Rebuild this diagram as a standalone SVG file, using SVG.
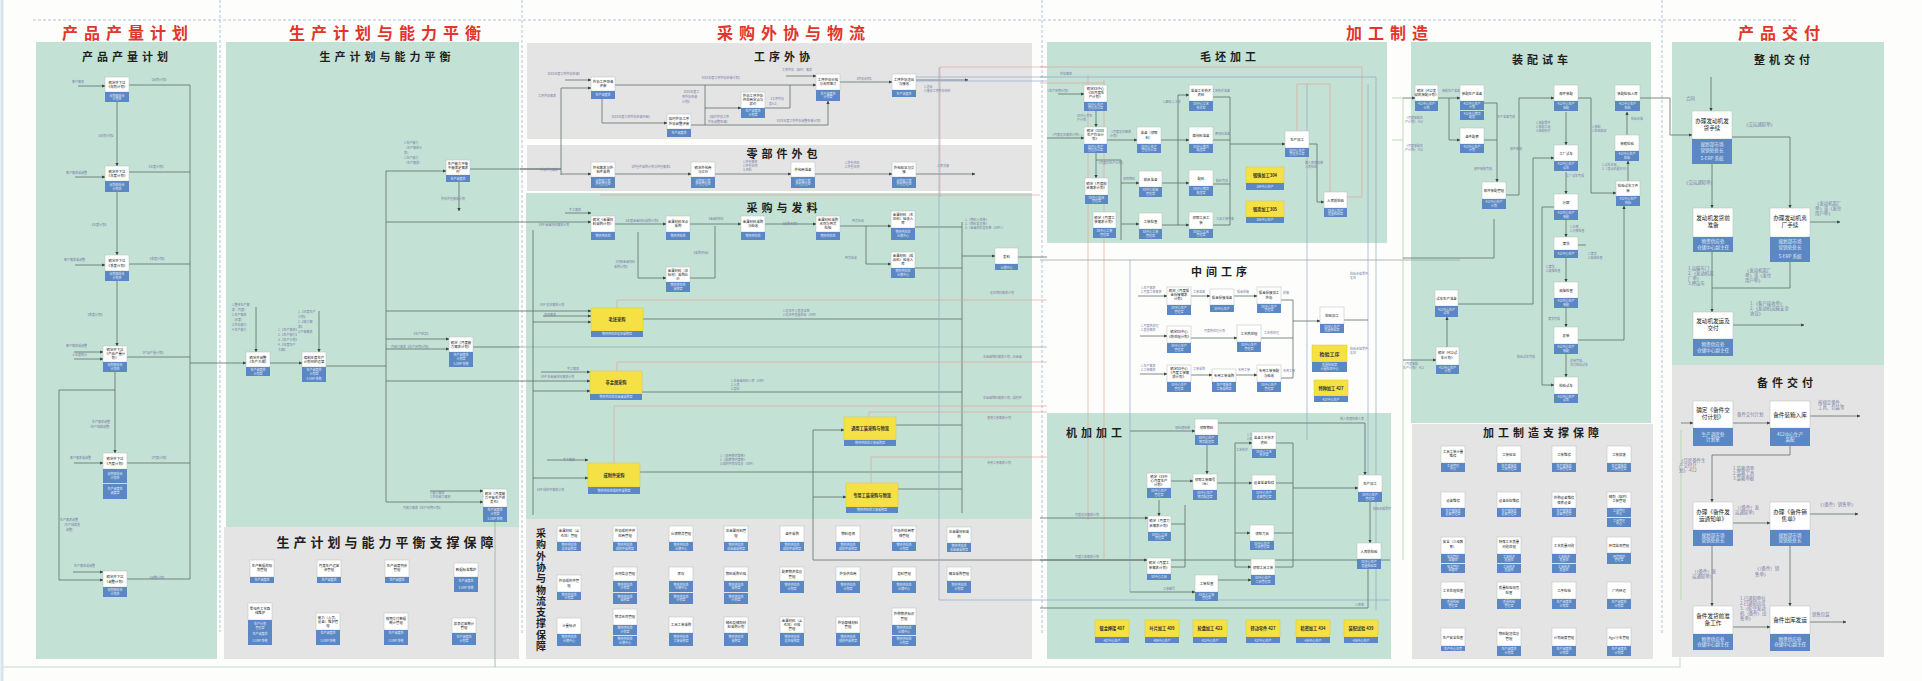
<svg xmlns="http://www.w3.org/2000/svg" width="1922" height="681" viewBox="0 0 1922 681">
<defs>
<marker id="a" viewBox="0 0 6 6" refX="5.5" refY="3" markerWidth="4" markerHeight="4" orient="auto"><path d="M0,0 L6,3 L0,6 z" fill="#36463f"/></marker>
</defs>
<style>
.pg{fill:#c4e1d5}
.pr{fill:#e4e4e4}
.hd{font-family:"Noto Sans CJK SC",sans-serif;font-weight:700;font-size:16px;fill:#e2352b;letter-spacing:6px;text-anchor:middle}
.pt{font-family:"Noto Sans CJK SC",sans-serif;font-weight:700;font-size:11px;fill:#1e1e1e;letter-spacing:4px;text-anchor:middle}
.w{fill:#fff;stroke:#b3bfbc;stroke-width:0.5}
.b{fill:#5b88c4}
.y{fill:#f6e144;stroke:#d8c63a;stroke-width:0.5}
.t{font-family:"Noto Sans CJK SC",sans-serif;font-size:3.4px;fill:#222;text-anchor:middle}
.ty{font-family:"Noto Sans CJK SC",sans-serif;font-size:4.2px;font-weight:700;fill:#333;text-anchor:middle}
.bt{font-family:"Noto Sans CJK SC",sans-serif;font-size:3px;fill:#e4ecf8;text-anchor:middle}
.t2{font-family:"Noto Sans CJK SC",sans-serif;font-size:5.6px;fill:#222;text-anchor:middle}
.bt2{font-family:"Noto Sans CJK SC",sans-serif;font-size:4.6px;fill:#e4ecf8;text-anchor:middle}
.l{font-family:"Noto Sans CJK SC",sans-serif;font-size:3px;fill:#7a7ea6}
.l2{font-family:"Noto Sans CJK SC",sans-serif;font-size:4.4px;fill:#7a7ea6}
.lr{font-family:"Noto Sans CJK SC",sans-serif;font-size:3px;fill:#8a7e9e}
.c{fill:none;stroke:#5d6f68;stroke-width:0.8}
.ca{fill:none;stroke:#5d6f68;stroke-width:0.8;marker-end:url(#a)}
.r{fill:none;stroke:#e79a96;stroke-width:0.6}
.u{fill:none;stroke:#93abc8;stroke-width:0.7}
.g{fill:none;stroke:#a9d4a4;stroke-width:0.8}
.dash{fill:none;stroke:#9cb3d6;stroke-width:0.8;stroke-dasharray:3 2}
</style>
<rect width="1922" height="681" fill="#fdfdfb"/>
<path d="M2,0 V681" stroke="#d5e6ee" stroke-width="3" fill="none"/>
<path d="M3,667 H1680 V560" stroke="#deeee6" stroke-width="2" fill="none"/>

<!-- frame dashed lines -->
<g id="frame">
<path class="dash" d="M33,20 H1797"/>
<path class="dash" d="M220,0 V632 M522,0 V633 M1042,0 V633 M1662,0 V635"/>
</g>

<!-- section headers -->
<g id="headers">
<text class="hd" x="128" y="39">产品产量计划</text>
<text class="hd" x="388" y="39">生产计划与能力平衡</text>
<text class="hd" x="794" y="39">采购外协与物流</text>
<text class="hd" x="1390" y="39">加工制造</text>
<text class="hd" x="1782" y="39">产品交付</text>
</g>

<!-- panels -->
<g id="panels">
<rect class="pg" x="36" y="42" width="181" height="617"/>
<rect class="pg" x="226" y="42" width="293" height="485"/>
<rect class="pr" x="224" y="527" width="295" height="132"/>
<rect class="pr" x="527" y="43" width="505" height="96"/>
<rect class="pr" x="527" y="145" width="505" height="46"/>
<rect class="pg" x="526" y="193" width="506" height="326"/>
<rect class="pr" x="526" y="519" width="506" height="140"/>
<rect class="pg" x="1047" y="42" width="340" height="201"/>
<rect class="pg" x="1047" y="413" width="344" height="246"/>
<rect class="pg" x="1411" y="42" width="240" height="381"/>
<rect class="pr" x="1412" y="424" width="241" height="235"/>
<rect class="pg" x="1672" y="42" width="212" height="323"/>
<rect class="pr" x="1672" y="365" width="212" height="292"/>
</g>

<g id="panel-titles">
<text class="pt" x="127" y="61">产品产量计划</text>
<text class="pt" x="387" y="61">生产计划与能力平衡</text>
<text class="pt" x="387" y="547" style="font-size:13px">生产计划与能力平衡支撑保障</text>
<text class="pt" x="784" y="61">工序外协</text>
<text class="pt" x="784" y="158">零部件外包</text>
<text class="pt" x="784" y="212">采购与发料</text>
<text class="pt" x="541" y="537" style="font-size:10px;letter-spacing:0">采<tspan x="541" dy="11.3">购</tspan><tspan x="541" dy="11.3">外</tspan><tspan x="541" dy="11.3">协</tspan><tspan x="541" dy="11.3">与</tspan><tspan x="541" dy="11.3">物</tspan><tspan x="541" dy="11.3">流</tspan><tspan x="541" dy="11.3">支</tspan><tspan x="541" dy="11.3">撑</tspan><tspan x="541" dy="11.3">保</tspan><tspan x="541" dy="11.3">障</tspan></text>
<text class="pt" x="1230" y="61">毛坯加工</text>
<text class="pt" x="1221" y="276">中间工序</text>
<text class="pt" x="1096" y="437">机加加工</text>
<text class="pt" x="1542" y="64">装配试车</text>
<text class="pt" x="1543" y="437" style="font-size:11px">加工制造支撑保障</text>
<text class="pt" x="1784" y="64">整机交付</text>
<text class="pt" x="1787" y="387">备件交付</text>
</g>

<!-- ================= connectors ================= -->
<g id="connectors">
<!-- region 1 -->
<path class="c" d="M129,85 H190 M129,172 H190 M129,264 H190 M127,357 H190 M127,463 H190 M127,579 H190 M190,85 V579"/>
<path class="ca" d="M117,102 V166"/>
<path class="ca" d="M117,192 V255"/>
<path class="ca" d="M117,281 V346"/>
<path class="ca" d="M115,372 V453"/>
<path class="ca" d="M115,390 H59 V580 H103"/>
<path class="ca" d="M78,86 H105"/>
<path class="ca" d="M75,177 H105"/>
<path class="ca" d="M75,265 H105"/>
<path class="ca" d="M74,352 H103"/>
<path class="ca" d="M74,359 H103"/>
<path class="ca" d="M74,463 H103"/>
<path class="ca" d="M73,572 H103"/>
<path class="ca" d="M190,363 H246"/>
<!-- region 2 -->
<path class="ca" d="M256,307 V352"/>
<path class="ca" d="M270,363 H302"/>
<path class="ca" d="M319,311 V352"/>
<path class="c" d="M326,366 H386 M386,171 V502"/>
<path class="ca" d="M386,171 H446"/>
<path class="c" d="M470,169 H561"/>
<path class="ca" d="M459,182 V211"/>
<path class="c" d="M386,222 H520"/>
<path class="c" d="M386,311 H520 M386,381 H520"/>
<path class="ca" d="M386,339 H449"/>
<path class="ca" d="M386,349 H449"/>
<path class="c" d="M473,347 H520"/>
<path class="c" d="M520,347 H1047" style="stroke:#97b5a7"/>
<path class="ca" d="M430,491 H483"/>
<path class="ca" d="M386,502 H483"/>
<path class="c" d="M495,522 V667" style="stroke:#8fb0a2"/>
<!-- 工序外协 -->
<path class="ca" d="M565,80 H591"/>
<path class="c" d="M561,88 V175 M520,169 H561"/>
<path class="ca" d="M561,88 H591"/>
<path class="c" d="M615,85 H790"/>
<path class="ca" d="M790,85 H816"/>
<path class="c" d="M705,85 V125"/>
<path class="ca" d="M705,108 H741"/>
<path class="c" d="M765,108 H790 V85"/>
<path class="ca" d="M602,99 V123 H667"/>
<path class="ca" d="M690,125 H828 V101"/>
<path class="ca" d="M840,82 H892"/>
<path class="ca" d="M786,76 H816"/>
<path class="ca" d="M915,80 H968"/>
<!-- 零部件外包 -->
<path class="ca" d="M561,174 H591"/>
<path class="ca" d="M615,174 H691"/>
<path class="ca" d="M715,174 H791"/>
<path class="ca" d="M815,174 H892"/>
<path class="ca" d="M915,174 H975"/>
<!-- 采购与发料 -->
<path class="ca" d="M565,213 H591"/>
<path class="ca" d="M520,222 H591"/>
<path class="c" d="M533,230 V515"/>
<path class="ca" d="M615,224 H666"/>
<path class="ca" d="M638,232 V278 H666"/>
<path class="c" d="M690,278 H715 V226"/>
<path class="ca" d="M690,224 H741"/>
<path class="ca" d="M765,224 H816"/>
<path class="ca" d="M840,226 H891"/>
<path class="ca" d="M866,226 V264 H891"/>
<path class="c" d="M915,227 H962 M915,268 H962 M962,222 V513"/>
<path class="ca" d="M962,256 H995"/>
<path class="c" d="M1018,257 H1047"/>
<path class="ca" d="M520,311 H591"/>
<path class="ca" d="M543,316 H591"/>
<path class="ca" d="M533,322 H591"/>
<path class="c" d="M643,319 H962"/>
<path class="ca" d="M541,372 H590"/>
<path class="ca" d="M520,381 H590"/>
<path class="ca" d="M533,391 H590"/>
<path class="c" d="M642,392 H962"/>
<path class="ca" d="M547,460 H588"/>
<path class="ca" d="M533,478 H588"/>
<path class="c" d="M640,472 H962"/>
<path class="c" d="M813,430 V560 H1390"/>
<path class="ca" d="M813,430 H844"/>
<path class="ca" d="M813,497 H846"/>
<path class="c" d="M896,425 H962 M898,489 H962"/>
<path class="r" d="M617,308 V300 H1047 M617,371 V362 H1047 M614,463 V406 H1047 M869,417 V412 H1047 M871,483 V457 H1047"/>
<path class="r" d="M600,195 H1040 M940,67 V197 M940,67 H1047"/>
<path class="u" d="M939,67 V600 H1390 M915,77 H1047 M915,81 H1047"/>
<!-- 毛坯加工 -->
<path class="ca" d="M1058,94 H1084"/>
<path class="ca" d="M1047,138 H1084"/>
<path class="ca" d="M1096,111 V127"/>
<path class="ca" d="M1107,140 H1137"/>
<path class="ca" d="M1161,140 H1189"/>
<path class="c" d="M1178,95 V225"/>
<path class="ca" d="M1178,95 H1189"/>
<path class="ca" d="M1161,183 H1189"/>
<path class="ca" d="M1162,225 H1189"/>
<path class="c" d="M1213,97 H1230 M1213,140 H1230 M1213,184 H1230 M1213,225 H1230 M1230,97 V225"/>
<path class="ca" d="M1230,144 H1285"/>
<path class="ca" d="M1096,153 V178"/>
<path class="c" d="M1096,160 H1121 V240"/>
<path class="ca" d="M1121,183 H1139"/>
<path class="ca" d="M1121,224 H1139"/>
<path class="ca" d="M1309,144 H1317 V202 H1324"/>
<path class="r" d="M1040,67 H1362 V197 H1347 M1088,75 V520 M1104,80 V560 M1040,83 H1104"/>
<path class="u" d="M1040,77 H1376 V610 M1307,84 V440 M1368,84 V475"/>
<path class="r" d="M1297,131 V84 H1330 V192"/>
<!-- 中间工序 -->
<path class="c" d="M1040,260 H1460" style="stroke:#9aa9a3"/>
<path class="u" d="M1130,260 V592"/>
<path class="ca" d="M1138,296 H1167"/>
<path class="ca" d="M1191,296 H1210"/>
<path class="ca" d="M1234,296 H1257"/>
<path class="ca" d="M1140,336 H1167"/>
<path class="ca" d="M1191,338 H1237"/>
<path class="ca" d="M1140,374 H1167"/>
<path class="ca" d="M1191,375 H1212"/>
<path class="ca" d="M1236,375 H1257"/>
<path class="c" d="M1281,300 H1293 M1261,338 H1293 M1281,378 H1293 M1293,300 V378"/>
<path class="ca" d="M1293,321 H1320"/>
<path class="c" d="M1344,320 H1368"/>
<!-- 机加加工 -->
<path class="ca" d="M1130,431 H1195"/>
<path class="ca" d="M1207,445 V474"/>
<path class="ca" d="M1218,423 H1365 V475"/>
<path class="ca" d="M1171,481 H1193"/>
<path class="c" d="M1217,483 H1235 M1235,443 V567"/>
<path class="ca" d="M1235,443 H1252"/>
<path class="ca" d="M1235,483 H1252"/>
<path class="ca" d="M1235,533 H1250"/>
<path class="ca" d="M1235,567 H1251"/>
<path class="c" d="M1276,443 H1293 M1276,483 H1293 M1274,533 H1293 M1275,567 H1293 M1293,443 V567"/>
<path class="ca" d="M1293,488 H1358"/>
<path class="ca" d="M1370,502 V543"/>
<path class="ca" d="M1159,500 V516"/>
<path class="c" d="M1171,524 H1185 V567 H1171 M1185,505 V524"/>
<path class="ca" d="M1040,518 H1148"/>
<path class="ca" d="M1040,560 H1147"/>
<path class="ca" d="M1218,580 H1251"/>
<path class="ca" d="M1130,592 H1195"/>
<path class="c" d="M1040,608 H1368 V569"/>
<!-- 装配试车 -->
<path class="g" d="M1392,98 H1403 V560 M1392,140 H1403"/>
<path class="ca" d="M1403,98 H1415"/>
<path class="ca" d="M1438,98 H1460"/>
<path class="ca" d="M1449,98 V140 H1460"/>
<path class="ca" d="M1484,103 H1497 V182"/>
<path class="c" d="M1484,140 H1497"/>
<path class="ca" d="M1506,195 H1519 V98 H1554"/>
<path class="ca" d="M1566,112 V145"/>
<path class="ca" d="M1566,172 V194"/>
<path class="ca" d="M1566,220 V237"/>
<path class="ca" d="M1566,258 V282"/>
<path class="ca" d="M1566,308 V327"/>
<path class="ca" d="M1566,354 V377"/>
<path class="ca" d="M1578,98 H1591 V193 H1616"/>
<path class="ca" d="M1628,181 V161"/>
<path class="ca" d="M1627,135 V112"/>
<path class="ca" d="M1458,304 H1533 V158 H1554"/>
<path class="ca" d="M1554,207 H1542 V385 H1554"/>
<path class="ca" d="M1578,340 H1624 V206"/>
<path class="c" d="M1567,245 H1586"/>
<path class="ca" d="M1447,347 V317"/>
<path class="ca" d="M1403,360 H1436"/>
<path class="c" d="M1494,219 V258 H1403"/>
<!-- 整机交付 -->
<path class="ca" d="M1640,98 H1670 V135 H1692"/>
<path class="ca" d="M1711,77 V111"/>
<path class="ca" d="M1732,137 H1790 V208"/>
<path class="ca" d="M1712,164 V208"/>
<path class="ca" d="M1810,222 H1840"/>
<path class="ca" d="M1712,252 V312"/>
<path class="c" d="M1790,262 V288 H1712"/>
<path class="ca" d="M1733,325 H1804"/>
<!-- 备件交付 -->
<path class="g" d="M1681,430 V600"/>
<path class="ca" d="M1681,423 H1693"/>
<path class="ca" d="M1733,423 H1770"/>
<path class="ca" d="M1810,416 H1860"/>
<path class="ca" d="M1790,446 V455 H1712 V502"/>
<path class="ca" d="M1733,523 H1770"/>
<path class="ca" d="M1810,514 H1858"/>
<path class="ca" d="M1712,546 V606"/>
<path class="ca" d="M1790,546 V606"/>
<path class="ca" d="M1733,627 H1770"/>
<path class="ca" d="M1810,622 H1846"/>
</g>

<!-- connector labels -->
<g id="labels">
<text class="l" x="72" y="83">客户需求</text>
<text class="l" x="150" y="81">【规划计划】</text>
<text class="l" x="97" y="137">【规划计划】</text>
<text class="l" x="66" y="174">客户需求或调整</text>
<text class="l" x="147" y="168">【年度计划】</text>
<text class="l" x="90" y="226">【年度计划】</text>
<text class="l" x="64" y="261">客户需求或调整</text>
<text class="l" x="148" y="260">【季度计划】</text>
<text class="l" x="86" y="316">【季度计划】</text>
<text class="l" x="66" y="347">客户需求或调整</text>
<text class="l" x="72" y="356">上年度统计</text>
<text class="l" x="141" y="354">【产品产量计划】</text>
<text class="l" x="92" y="423">生产需求调整</text>
<text class="l" x="88" y="428">（生产线路调整）</text>
<text class="l" x="70" y="459">客户需求或调整</text>
<text class="l" x="150" y="459">【月度计划】</text>
<text class="l" x="60" y="521">生产需求调整</text>
<text class="l" x="62" y="526">（生产线路变</text>
<text class="l" x="66" y="531">调整）</text>
<text class="l" x="74" y="567">生产需求或调整</text>
<text class="l" x="148" y="579">【调整计划】</text>
<text class="l" x="232" y="306">1.整体生产需</text>
<text class="l" x="232" y="311">求（月度）</text>
<text class="l" x="232" y="316">2.生产需求</text>
<text class="l" x="232" y="321">（年度）</text>
<text class="l" x="232" y="326">3.外协能力</text>
<text class="l" x="232" y="331">4.生产能力</text>
<text class="l" x="278" y="331">1.【生产需求】</text>
<text class="l" x="278" y="336">2.【生产能力】</text>
<text class="l" x="278" y="341">3.【生产计划】</text>
<text class="l" x="278" y="346">4.【年度生产</text>
<text class="l" x="278" y="351">大纲】</text>
<text class="l" x="298" y="313">1.【年度生产</text>
<text class="l" x="298" y="318">计划】</text>
<text class="l" x="298" y="323">2.【能力需</text>
<text class="l" x="298" y="328">求】</text>
<text class="l" x="298" y="333">3.产能需求</text>
<text class="l" x="404" y="144">1.生产能力</text>
<text class="l" x="404" y="149">（生产需求计</text>
<text class="l" x="404" y="154">划）</text>
<text class="l" x="404" y="159">2.生产能力</text>
<text class="l" x="404" y="164">（生产需求）</text>
<text class="l" x="441" y="200">外协外包需求计划</text>
<text class="l" x="412" y="335">【生产任务】</text>
<text class="l" x="391" y="348">月能力需求【生产周期计划】</text>
<text class="l" x="430" y="494">1.能力需求</text>
<text class="l" x="430" y="498">2.外协能力需求</text>
<text class="l" x="403" y="509">月能力需求【生产周期计划】</text>
<text class="l" x="546" y="75">【XXX年度工序外协申请】</text>
<text class="l" x="538" y="97">工序外协需求</text>
<text class="l" x="700" y="79">【XXX年度工序外协申请计划】</text>
<text class="l" x="682" y="93">【XXX年度工</text>
<text class="l" x="682" y="98">序外协申请</text>
<text class="l" x="682" y="103">计划】</text>
<text class="l" x="769" y="100">【工序外协</text>
<text class="l" x="769" y="105">报价】</text>
<text class="l" x="610" y="118">【XXX年度工序外协申请评审】</text>
<text class="l" x="708" y="118">【临时外协工序</text>
<text class="l" x="708" y="123">外协调整申请】</text>
<text class="l" x="775" y="122">【XXX年度工序外协调整申请计划】</text>
<text class="l" x="855" y="80">【外协合同】</text>
<text class="l" x="782" y="71">工序外协（临时）需求</text>
<text class="l" x="924" y="88">1.送出</text>
<text class="l" x="924" y="92">2.接收工序外协材料</text>
<text class="l" x="540" y="171">外协外包需求</text>
<text class="l" x="630" y="168">【外包件采购计划与外包需求】</text>
<text class="l" x="743" y="163">1.外包需求</text>
<text class="l" x="743" y="167">2.外包合同</text>
<text class="l" x="743" y="171">3.资料</text>
<text class="l" x="845" y="164">1.外包资料</text>
<text class="l" x="845" y="168">2.外包合同</text>
<text class="l" x="937" y="167">入库交接</text>
<text class="l" x="569" y="211">手工需求</text>
<text class="l" x="539" y="226">ERP 金属材料需求计划</text>
<text class="l" x="624" y="222">【年度金属材料采购计划】</text>
<text class="l" x="707" y="220">【金属材料】</text>
<text class="l" x="781" y="225">【采购合同】</text>
<text class="l" x="852" y="222">到货验收</text>
<text class="l" x="965" y="221">1.《物料入库单》</text>
<text class="l" x="965" y="225">2.《物料发运单》</text>
<text class="l" x="965" y="229">3.《金属材料发料单（ERP）》</text>
<text class="l" x="614" y="263">【可研金属材料</text>
<text class="l" x="614" y="268">采购计划】</text>
<text class="l" x="692" y="254">【采购资源】</text>
<text class="l" x="845" y="259">到货验收</text>
<text class="l" x="540" y="306">ERP 毛坯需求计划</text>
<text class="l" x="544" y="316">其他需求</text>
<text class="l" x="783" y="312">1.毛坯件入库送达单</text>
<text class="l" x="783" y="316">2.毛坯件质量检验（ERP）</text>
<text class="lr" x="990" y="294">毛坯物料需求计划</text>
<text class="l" x="567" y="370">手工需求</text>
<text class="l" x="541" y="378">ERP 非金属材料需求计划</text>
<text class="l" x="731" y="382">1.非金属材料入库（ERP）</text>
<text class="l" x="731" y="386">2.入库</text>
<text class="l" x="731" y="390">3.发料</text>
<text class="lr" x="983" y="358">非金属物料需求计划—非金属</text>
<text class="lr" x="983" y="399">非金属物料需求计划—成附件</text>
<text class="lr" x="987" y="419">通用工装需求计划</text>
<text class="lr" x="987" y="464">专用工装需求计划</text>
<text class="l" x="563" y="461">手工需求</text>
<text class="l" x="537" y="491">ERP 成附件需求计划</text>
<text class="l" x="720" y="457">1.《领用物资清单》</text>
<text class="l" x="720" y="461">2.《配套物资清单》</text>
<text class="l" x="720" y="465">3.成附件库存信息（ERP）</text>
<text class="l" x="1046" y="92">《生产周期计划》</text>
<text class="l" x="1060" y="75">外协需求</text>
<text class="l" x="1051" y="136">《月度毛坯需求计划》(--xx)</text>
<text class="l" x="1077" y="117">XX中心月生</text>
<text class="l" x="1077" y="121">产计划</text>
<text class="l" x="1110" y="133">《月度毛坯需求</text>
<text class="l" x="1110" y="137">计划》</text>
<text class="l" x="1097" y="164">《月度XX生产计划》</text>
<text class="l" x="1123" y="180">领取物料</text>
<text class="l" x="1163" y="103">1.图纸 2.工艺</text>
<text class="l" x="1212" y="92">工艺技术准备</text>
<text class="l" x="1215" y="135">原材料准备</text>
<text class="l" x="1216" y="182">配料完成</text>
<text class="l" x="1216" y="220">工具工装齐备</text>
<text class="l" x="1305" y="164">按入库通知单</text>
<text class="l" x="1305" y="168">入库检验</text>
<text class="l" x="1141" y="289">1.生产需求</text>
<text class="l" x="1141" y="293">2.月度工装需求</text>
<text class="l" x="1193" y="293">工装准备</text>
<text class="l" x="1237" y="293">钣金焊接</text>
<text class="l" x="1283" y="294">焊接</text>
<text class="l" x="1141" y="327">1.月度热处理</text>
<text class="l" x="1141" y="331">2.其他需求</text>
<text class="l" x="1204" y="332">月度热处理计划</text>
<text class="l" x="1264" y="334">工艺热处理</text>
<text class="l" x="1141" y="367">1.生产需求</text>
<text class="l" x="1141" y="371">2.工装需求</text>
<text class="l" x="1193" y="370">工装采购</text>
<text class="l" x="1238" y="371">专用工装</text>
<text class="l" x="1283" y="372">专用工装</text>
<text class="l" x="1350" y="275">检验合格零件、</text>
<text class="l" x="1350" y="279">毛坯</text>
<text class="l" x="1350" y="350">检验合格零件、</text>
<text class="l" x="1350" y="354">毛坯</text>
<text class="l" x="1175" y="429">领料通知单</text>
<text class="l" x="1340" y="420">按入库通知单入库</text>
<text class="l" x="1236" y="451">工艺技术</text>
<text class="l" x="1247" y="436">1.工艺技术资料</text>
<text class="l" x="1247" y="440">2.图纸</text>
<text class="l" x="1075" y="516">月度毛坯需求计划</text>
<text class="l" x="1075" y="558">月度工装需求计划</text>
<text class="l" x="1163" y="590">工装图号</text>
<text class="l" x="1355" y="606">入库单</text>
<text class="l" x="1373" y="510">检验合格零件</text>
<text class="l" x="1405" y="119">《月度装配生</text>
<text class="l" x="1405" y="123">产计划》-412</text>
<text class="l" x="1405" y="147">《月度装配生</text>
<text class="l" x="1405" y="151">产计划》-412</text>
<text class="l" x="1442" y="92">装配生产准备</text>
<text class="l" x="1497" y="118">生产准备完成</text>
<text class="l" x="1474" y="170">部件装配完成</text>
<text class="l" x="1510" y="150">部件装配</text>
<text class="l" x="1536" y="124">1.装配零件</text>
<text class="l" x="1536" y="128">2.装配工具</text>
<text class="l" x="1536" y="132">3.装配技术</text>
<text class="l" x="1592" y="128">1.装配</text>
<text class="l" x="1592" y="132">2.检验结果</text>
<text class="l" x="1602" y="166">1.试车合格</text>
<text class="l" x="1602" y="170">2.《发动机履历本》</text>
<text class="l" x="1631" y="120">检验合格</text>
<text class="l" x="1566" y="177">工厂试车完成</text>
<text class="l" x="1570" y="228">1.分解</text>
<text class="l" x="1570" y="232">2.分解检查</text>
<text class="l" x="1588" y="255">1.清洗</text>
<text class="l" x="1588" y="259">2.故障检查</text>
<text class="l" x="1546" y="268">1.清洗</text>
<text class="l" x="1546" y="272">2.故障检查</text>
<text class="l" x="1548" y="320">清洗完成</text>
<text class="l" x="1570" y="362">总装完成，</text>
<text class="l" x="1570" y="366">交付检验试车</text>
<text class="l" x="1517" y="358">检验试车完成</text>
<text class="l" x="1403" y="365">《月度装配</text>
<text class="l" x="1403" y="369">生产计划》-412</text>
<text class="l2" x="1686" y="100">合同</text>
<text class="l2" x="1744" y="126">《交运通知单》</text>
<text class="l2" x="1684" y="184">《交运通知单》</text>
<text class="l2" x="1815" y="205">《发动机离厂</text>
<text class="l2" x="1815" y="210">单》或《发往</text>
<text class="l2" x="1815" y="215">用户单》</text>
<text class="l2" x="1688" y="270">1.运输车门</text>
<text class="l2" x="1688" y="275">2.《发动机离</text>
<text class="l2" x="1688" y="280">厂单》</text>
<text class="l2" x="1688" y="285">3.押运车</text>
<text class="l2" x="1745" y="272">《发动机离厂</text>
<text class="l2" x="1745" y="277">单》或《发往</text>
<text class="l2" x="1745" y="282">用户单》</text>
<text class="l2" x="1750" y="305">1.《客户接收单》</text>
<text class="l2" x="1750" y="310">2.《发动机运输安全</text>
<text class="l2" x="1750" y="315">协议》</text>
<text class="l2" x="1679" y="462">《月度备件生</text>
<text class="l2" x="1679" y="467">产交付计</text>
<text class="l2" x="1679" y="472">划》-412</text>
<text class="l2" x="1737" y="416">备件交付计划</text>
<text class="l2" x="1818" y="404">按规定备件、</text>
<text class="l2" x="1818" y="409">工具、包装等</text>
<text class="l2" x="1733" y="470">1.装箱清单</text>
<text class="l2" x="1733" y="475">2.装箱工具</text>
<text class="l2" x="1733" y="480">3.装箱单据</text>
<text class="l2" x="1735" y="509">（（备件）发</text>
<text class="l2" x="1735" y="514">运通知单）</text>
<text class="l2" x="1818" y="506">《（备件）销售单》</text>
<text class="l2" x="1692" y="573">（（备件）发</text>
<text class="l2" x="1692" y="578">运通知单）</text>
<text class="l2" x="1755" y="570">《（备件）销</text>
<text class="l2" x="1755" y="576">售单》</text>
<text class="l2" x="1740" y="600">1.已通知单位</text>
<text class="l2" x="1740" y="605">2.已通知出库</text>
<text class="l2" x="1740" y="610">3.《航空发动</text>
<text class="l2" x="1740" y="615">机（备件）出</text>
<text class="l2" x="1740" y="620">售单》</text>
<text class="l2" x="1812" y="616">销售包装</text>
</g>

<!-- ================= nodes ================= -->
<!-- region 1 -->
<g id="p1n1"><rect class="w" x="105" y="77" width="24" height="15"/><rect class="b" x="105" y="92" width="24" height="10"/><text class="t" x="117" y="83.5">确定并下达</text><text class="t" x="117" y="88">《规划计划》</text><text class="bt" x="117" y="96.5">规划部综合</text><text class="bt" x="117" y="100">计划处</text></g>
<g id="p1n2"><rect class="w" x="105" y="166" width="24" height="15"/><rect class="b" x="105" y="181" width="24" height="11"/><text class="t" x="117" y="172.5">确定并下达</text><text class="t" x="117" y="177">《年度计划》</text><text class="bt" x="117" y="186">规划部综合</text><text class="bt" x="117" y="189.5">计划处</text></g>
<g id="p1n3"><rect class="w" x="105" y="255" width="24" height="16"/><rect class="b" x="105" y="271" width="24" height="10"/><text class="t" x="117" y="262">确定并下达</text><text class="t" x="117" y="266.5">《季度计划》</text><text class="bt" x="117" y="275">规划部综合</text><text class="bt" x="117" y="278.5">计划处</text></g>
<g id="p1n4"><rect class="w" x="103" y="346" width="24" height="16"/><rect class="b" x="103" y="362" width="24" height="10"/><text class="t" x="115" y="351">确定并下达</text><text class="t" x="115" y="355">《产品产量计</text><text class="t" x="115" y="359">划》</text><text class="bt" x="115" y="366">规划部综合</text><text class="bt" x="115" y="369.5">计划处</text></g>
<g id="p1n5"><rect class="w" x="103" y="453" width="24" height="16"/><rect class="b" x="103" y="469" width="24" height="14"/><rect class="b" x="103" y="484" width="24" height="15"/><text class="t" x="115" y="460">确定并下达</text><text class="t" x="115" y="464.5">《月度计划》</text><text class="bt" x="115" y="475">规划部综合</text><text class="bt" x="115" y="478.5">计划处</text><text class="bt" x="115" y="490">生产调度处</text><text class="bt" x="115" y="493.5">调度室</text></g>
<g id="p1n6"><rect class="w" x="103" y="571" width="24" height="16"/><rect class="b" x="103" y="587" width="24" height="10"/><text class="t" x="115" y="578">确定并下达</text><text class="t" x="115" y="582.5">《调整计划》</text><text class="bt" x="115" y="591">规划部综合</text><text class="bt" x="115" y="594.5">计划处</text></g>

<!-- region 2 -->
<g id="p2n1"><rect class="w" x="246" y="352" width="24" height="15"/><rect class="b" x="246" y="367" width="24" height="9"/><text class="t" x="258" y="358.5">确定并调整</text><text class="t" x="258" y="363">《生产大纲》</text><text class="bt" x="258" y="371">生产调度处</text><text class="bt" x="258" y="374.5">计划室</text></g>
<g id="p2n2"><rect class="w" x="302" y="352" width="24" height="15"/><rect class="b" x="302" y="367" width="24" height="15"/><text class="t" x="314" y="358.5">编制年度生产</text><text class="t" x="314" y="363">计划MRP运算</text><text class="bt" x="314" y="371">生产调度处</text><text class="bt" x="314" y="374.5">计划室</text><text class="bt" x="314" y="379.5">S-ERP 系统</text></g>
<g id="p2n3"><rect class="w" x="446" y="160" width="24" height="15"/><rect class="b" x="446" y="175" width="24" height="7"/><text class="t" x="458" y="165">生产能力平衡</text><text class="t" x="458" y="169">不能满足需求</text><text class="t" x="458" y="173">时</text><text class="bt" x="458" y="179.5">生产调度处</text></g>
<g id="p2n4"><rect class="w" x="449" y="337" width="24" height="15"/><rect class="b" x="449" y="352" width="24" height="15"/><text class="t" x="461" y="343.5">确定《月度能</text><text class="t" x="461" y="348">力需求计划》</text><text class="bt" x="461" y="356">生产调度处</text><text class="bt" x="461" y="359.5">计划室</text><text class="bt" x="461" y="364.5">S-ERP 系统</text></g>
<g id="p2n5"><rect class="w" x="483" y="489" width="24" height="18"/><rect class="b" x="483" y="507" width="24" height="15"/><text class="t" x="495" y="495">确定《月度能</text><text class="t" x="495" y="499">力平衡生产任</text><text class="t" x="495" y="503">务书》</text><text class="bt" x="495" y="511">生产调度处</text><text class="bt" x="495" y="514.5">计划室</text><text class="bt" x="495" y="519.5">S-ERP 系统</text></g>
<g id="s2a"><rect class="w" x="250" y="560" width="24" height="17"/><rect class="b" x="250" y="577" width="24" height="6"/><text class="t" x="262" y="567">生产数据的规</text><text class="t" x="262" y="571">划管理</text><text class="bt" x="262" y="581">生产调度处</text></g>
<g id="s2b"><rect class="w" x="317" y="560" width="24" height="17"/><rect class="b" x="317" y="577" width="24" height="6"/><text class="t" x="329" y="567">月度生产运营</text><text class="t" x="329" y="571">会管理</text><text class="bt" x="329" y="581">生产调度处</text></g>
<g id="s2c"><rect class="w" x="385" y="560" width="24" height="17"/><rect class="b" x="385" y="577" width="24" height="6"/><text class="t" x="397" y="567">生产调度例会</text><text class="t" x="397" y="571">管理</text><text class="bt" x="397" y="581">生产调度处</text></g>
<g id="s2d"><rect class="w" x="454" y="563" width="24" height="14"/><rect class="b" x="454" y="577" width="24" height="15"/><text class="t" x="466" y="571">数据标准维护</text><text class="bt" x="466" y="582">生产调度处</text><text class="bt" x="466" y="589">S-ERP 系统</text></g>
<g id="s2e"><rect class="w" x="248" y="603" width="24" height="17"/><rect class="b" x="248" y="620" width="24" height="25"/><text class="t" x="260" y="610">零组件工艺路</text><text class="t" x="260" y="614">线维护</text><text class="bt" x="260" y="625">生产计划</text><text class="bt" x="260" y="628.5">管理室</text><text class="bt" x="260" y="635">生产调度处</text><text class="bt" x="260" y="642">S-ERP 系统</text></g>
<g id="s2f"><rect class="w" x="316" y="613" width="24" height="17"/><rect class="b" x="316" y="630" width="24" height="15"/><text class="t" x="328" y="619">能力（人员、</text><text class="t" x="328" y="623">设备）维护管</text><text class="t" x="328" y="627">理</text><text class="bt" x="328" y="634">生产调度处</text><text class="bt" x="328" y="642">S-ERP 系统</text></g>
<g id="s2g"><rect class="w" x="384" y="613" width="24" height="17"/><rect class="b" x="384" y="630" width="24" height="15"/><text class="t" x="396" y="620">按期交付数据</text><text class="t" x="396" y="624">统计管理</text><text class="bt" x="396" y="634">生产调度处</text><text class="bt" x="396" y="642">S-ERP 系统</text></g>
<g id="s2h"><rect class="w" x="452" y="618" width="24" height="15"/><rect class="b" x="452" y="633" width="24" height="12"/><text class="t" x="464" y="624.5">报表运营统计</text><text class="t" x="464" y="629">管理</text><text class="bt" x="464" y="638">生产调度处</text><text class="bt" x="464" y="642">计划室</text></g>

<!-- 工序外协 -->
<g id="q1"><rect class="w" x="591" y="77" width="24" height="14"/><rect class="b" x="591" y="91" width="24" height="8"/><text class="t" x="603" y="83">外协工序申请</text><text class="t" x="603" y="87">评审</text><text class="bt" x="603" y="96">生产调度处</text></g>
<g id="q2"><rect class="w" x="667" y="114" width="24" height="15"/><rect class="b" x="667" y="129" width="24" height="8"/><text class="t" x="679" y="120">临时外协工序</text><text class="t" x="679" y="124.5">外协调整评审</text><text class="bt" x="679" y="134">生产调度处</text></g>
<g id="q3"><rect class="w" x="741" y="92" width="24" height="16"/><rect class="b" x="741" y="108" width="24" height="10"/><text class="t" x="753" y="97">外协工序外协</text><text class="t" x="753" y="101">供应商定点与</text><text class="t" x="753" y="105">报价</text><text class="bt" x="753" y="112">生产调度处</text><text class="bt" x="753" y="115.5">计划室</text></g>
<g id="q4"><rect class="w" x="816" y="74" width="24" height="16"/><rect class="b" x="816" y="90" width="24" height="11"/><text class="t" x="828" y="80.5">工序外协价格</text><text class="t" x="828" y="85">与合同签订</text><text class="bt" x="828" y="94.5">生产调度处</text><text class="bt" x="828" y="98">计划室</text></g>
<g id="q5"><rect class="w" x="892" y="74" width="24" height="16"/><rect class="b" x="892" y="90" width="24" height="7"/><text class="t" x="904" y="80.5">工序外协送出</text><text class="t" x="904" y="85">与接收</text><text class="bt" x="904" y="94.5">生产调度处</text></g>
<!-- 零部件外包 -->
<g id="z1"><rect class="w" x="591" y="162" width="24" height="15"/><rect class="b" x="591" y="177" width="24" height="11"/><text class="t" x="603" y="168.5">外包需求与外</text><text class="t" x="603" y="173">包件采购</text><text class="bt" x="603" y="181.5">规划部工程</text><text class="bt" x="603" y="185">外包管理处</text></g>
<g id="z2"><rect class="w" x="691" y="162" width="24" height="15"/><rect class="b" x="691" y="177" width="24" height="11"/><text class="t" x="703" y="168.5">确定外包商</text><text class="t" x="703" y="173">与议价</text><text class="bt" x="703" y="181.5">规划部工程</text><text class="bt" x="703" y="185">外包管理处</text></g>
<g id="z3"><rect class="w" x="791" y="162" width="24" height="15"/><rect class="b" x="791" y="177" width="24" height="11"/><text class="t" x="803" y="171">外包商准备</text><text class="bt" x="803" y="181.5">规划部工程</text><text class="bt" x="803" y="185">外包管理处</text></g>
<g id="z4"><rect class="w" x="892" y="162" width="24" height="15"/><rect class="b" x="892" y="177" width="24" height="11"/><text class="t" x="904" y="168.5">外包验证与交</text><text class="t" x="904" y="173">接</text><text class="bt" x="904" y="181.5">规划部工程</text><text class="bt" x="904" y="185">外包管理处</text></g>
<!-- 采购与发料 -->
<g id="f1"><rect class="w" x="591" y="216" width="24" height="16"/><rect class="b" x="591" y="232" width="24" height="8"/><text class="t" x="603" y="221">确定《金属材</text><text class="t" x="603" y="225">料采购计划》</text><text class="bt" x="603" y="237">物资供应处</text></g>
<g id="f2"><rect class="w" x="666" y="216" width="24" height="16"/><rect class="b" x="666" y="232" width="24" height="8"/><text class="t" x="678" y="222.5">金属材料定点</text><text class="t" x="678" y="227">采购</text><text class="bt" x="678" y="237">物资供应处</text></g>
<g id="f3"><rect class="w" x="741" y="216" width="24" height="16"/><rect class="b" x="741" y="232" width="24" height="8"/><text class="t" x="753" y="222.5">金属材料采购</text><text class="t" x="753" y="227">与验收</text><text class="bt" x="753" y="237">物资供应处</text></g>
<g id="f4"><rect class="w" x="816" y="216" width="24" height="16"/><rect class="b" x="816" y="232" width="24" height="8"/><text class="t" x="828" y="221">金属材料采购</text><text class="t" x="828" y="225">合同与到货</text><text class="t" x="828" y="229">检验</text><text class="bt" x="828" y="237">物资供应处</text></g>
<g id="f5"><rect class="w" x="891" y="211" width="24" height="17"/><rect class="b" x="891" y="228" width="24" height="12"/><text class="t" x="903" y="216">金属材料（毛</text><text class="t" x="903" y="220">坯料）验收入</text><text class="t" x="903" y="224">库</text><text class="bt" x="903" y="233">物资供应处</text><text class="bt" x="903" y="237">仓储中心</text></g>
<g id="f6"><rect class="w" x="666" y="267" width="24" height="15"/><rect class="b" x="666" y="282" width="24" height="10"/><text class="t" x="678" y="272">金属材料（非</text><text class="t" x="678" y="276">标材）采购比</text><text class="t" x="678" y="280">价</text><text class="bt" x="678" y="286">物资供应处</text><text class="bt" x="678" y="289.5">采购室</text></g>
<g id="f7"><rect class="w" x="891" y="252" width="24" height="16"/><rect class="b" x="891" y="268" width="24" height="10"/><text class="t" x="903" y="257">金属材料（成</text><text class="t" x="903" y="261">品料）验收入</text><text class="t" x="903" y="265">库</text><text class="bt" x="903" y="272">物资供应处</text><text class="bt" x="903" y="275.5">仓储中心</text></g>
<g id="f8"><rect class="w" x="995" y="248" width="23" height="16"/><rect class="b" x="995" y="264" width="23" height="6"/><text class="t" x="1006.5" y="257.5">发料</text><text class="bt" x="1006.5" y="268.5">仓储中心</text></g>
<g id="y1"><rect class="y" x="591" y="308" width="52" height="23"/><rect class="b" x="591" y="331" width="52" height="6"/><text class="ty" x="617" y="321">毛坯采购</text><text class="bt" x="617" y="335">物资供应处毛坯采购室</text></g>
<g id="y2"><rect class="y" x="590" y="371" width="52" height="23"/><rect class="b" x="590" y="394" width="52" height="6"/><text class="ty" x="616" y="384">非金属采购</text><text class="bt" x="616" y="398">物资供应处非金属采购室</text></g>
<g id="y3"><rect class="y" x="588" y="463" width="52" height="24"/><rect class="b" x="588" y="487" width="52" height="7"/><text class="ty" x="614" y="477">成附件采购</text><text class="bt" x="614" y="491.5">物资供应处成附件采购室</text></g>
<g id="y4"><rect class="y" x="844" y="417" width="52" height="23"/><rect class="b" x="844" y="440" width="52" height="6"/><text class="ty" x="870" y="430">通用工装采购与物流</text><text class="bt" x="870" y="444">物资供应处工装采购室</text></g>
<g id="y5"><rect class="y" x="846" y="483" width="52" height="24"/><rect class="b" x="846" y="507" width="52" height="6"/><text class="ty" x="872" y="497">专用工装采购与物流</text><text class="bt" x="872" y="511">物资供应处工装采购室</text></g>
<!-- 采购支撑 -->
<g id="s3r1a"><rect class="w" x="557" y="526" width="24" height="16"/><rect class="b" x="557" y="542" width="24" height="9"/><text class="t" x="569" y="532">金属材料（含</text><text class="t" x="569" y="536.5">毛坯）管理</text><text class="bt" x="569" y="546">物资供应处</text><text class="bt" x="569" y="549.5">毛坯采购室</text></g>
<g id="s3r1b"><rect class="w" x="613" y="526" width="24" height="16"/><rect class="b" x="613" y="542" width="24" height="9"/><text class="t" x="625" y="532">外协成附件供</text><text class="t" x="625" y="536.5">应商管理</text><text class="bt" x="625" y="546">物资供应处</text><text class="bt" x="625" y="549.5">成附件采购室</text></g>
<g id="s3r1c"><rect class="w" x="669" y="526" width="24" height="16"/><rect class="b" x="669" y="542" width="24" height="9"/><text class="t" x="681" y="535">仓储物流管理</text><text class="bt" x="681" y="546">物资供应处</text><text class="bt" x="681" y="549.5">仓储中心</text></g>
<g id="s3r1d"><rect class="w" x="724" y="526" width="24" height="16"/><rect class="b" x="724" y="542" width="24" height="9"/><text class="t" x="736" y="532">非金属材料管</text><text class="t" x="736" y="536.5">理</text><text class="bt" x="736" y="546">物资供应处</text><text class="bt" x="736" y="549.5">非金属采购室</text></g>
<g id="s3r1e"><rect class="w" x="780" y="526" width="24" height="16"/><rect class="b" x="780" y="542" width="24" height="9"/><text class="t" x="792" y="535">备件采购</text><text class="bt" x="792" y="546">物资供应处</text><text class="bt" x="792" y="549.5">成附件采购室</text></g>
<g id="s3r1f"><rect class="w" x="836" y="526" width="24" height="16"/><rect class="b" x="836" y="542" width="24" height="9"/><text class="t" x="848" y="535">物料追溯</text><text class="bt" x="848" y="546">物资供应处</text><text class="bt" x="848" y="549.5">成附件采购室</text></g>
<g id="s3r1g"><rect class="w" x="892" y="526" width="24" height="16"/><rect class="b" x="892" y="542" width="24" height="9"/><text class="t" x="904" y="532">外协供应商考</text><text class="t" x="904" y="536.5">核管理</text><text class="bt" x="904" y="546">物资供应处</text><text class="bt" x="904" y="549.5">计划室</text></g>
<g id="s3r1h"><rect class="w" x="947" y="527" width="24" height="16"/><rect class="b" x="947" y="543" width="24" height="9"/><text class="t" x="959" y="533">非金属材料采</text><text class="t" x="959" y="537.5">购</text><text class="bt" x="959" y="547">物资供应处</text><text class="bt" x="959" y="550.5">非金属采购室</text></g>
<g id="s3r2a"><rect class="w" x="557" y="575" width="24" height="17"/><rect class="b" x="557" y="592" width="24" height="8"/><text class="t" x="569" y="582">外协成附件管</text><text class="t" x="569" y="586.5">理</text><text class="bt" x="569" y="595.5">物资供应处</text><text class="bt" x="569" y="598.5">计划室</text></g>
<g id="s3r2b"><rect class="w" x="613" y="567" width="24" height="14"/><rect class="b" x="613" y="581" width="24" height="11"/><rect class="b" x="613" y="593" width="24" height="11"/><text class="t" x="625" y="575">合同信息管理</text><text class="bt" x="625" y="585.5">物资供应处</text><text class="bt" x="625" y="589">计划室</text><text class="bt" x="625" y="597.5">物资供应处</text><text class="bt" x="625" y="601">采购室</text></g>
<g id="s3r2c"><rect class="w" x="669" y="567" width="24" height="14"/><rect class="b" x="669" y="581" width="24" height="11"/><rect class="b" x="669" y="593" width="24" height="11"/><text class="t" x="681" y="575">库存</text><text class="bt" x="681" y="585.5">物资供应处</text><text class="bt" x="681" y="589">仓储中心</text><text class="bt" x="681" y="597.5">物资供应处</text><text class="bt" x="681" y="601">计划室</text></g>
<g id="s3r2d"><rect class="w" x="724" y="567" width="24" height="14"/><rect class="b" x="724" y="581" width="24" height="11"/><rect class="b" x="724" y="593" width="24" height="11"/><text class="t" x="736" y="575">物料采购价格</text><text class="bt" x="736" y="585.5">物资供应处</text><text class="bt" x="736" y="589">采购室</text><text class="bt" x="736" y="597.5">物资供应处</text><text class="bt" x="736" y="601">计划室</text></g>
<g id="s3r2e"><rect class="w" x="780" y="567" width="24" height="14"/><rect class="b" x="780" y="581" width="24" height="12"/><text class="t" x="792" y="573">配套物资信息</text><text class="t" x="792" y="577.5">管理</text><text class="bt" x="792" y="586">物资供应处</text><text class="bt" x="792" y="590">计划室</text></g>
<g id="s3r2f"><rect class="w" x="836" y="567" width="24" height="14"/><rect class="b" x="836" y="581" width="24" height="12"/><text class="t" x="848" y="575">外协供应商</text><text class="bt" x="848" y="586">物资供应处</text><text class="bt" x="848" y="590">计划室</text></g>
<g id="s3r2g"><rect class="w" x="892" y="567" width="24" height="14"/><rect class="b" x="892" y="581" width="24" height="12"/><text class="t" x="904" y="575">发料管理</text><text class="bt" x="904" y="586">物资供应处</text><text class="bt" x="904" y="590">仓储中心</text></g>
<g id="s3r2h"><rect class="w" x="947" y="567" width="24" height="14"/><rect class="b" x="947" y="581" width="24" height="12"/><text class="t" x="959" y="575">精益采购管理</text><text class="bt" x="959" y="586">物资供应处</text><text class="bt" x="959" y="590">计划室</text></g>
<g id="s3r3a"><rect class="w" x="557" y="618" width="24" height="16"/><rect class="b" x="557" y="634" width="24" height="12"/><text class="t" x="569" y="627">计量标识</text><text class="bt" x="569" y="638">物资供应处</text><text class="bt" x="569" y="642">仓储中心</text></g>
<g id="s3r3b"><rect class="w" x="613" y="609" width="24" height="16"/><rect class="b" x="613" y="625" width="24" height="10"/><rect class="b" x="613" y="636" width="24" height="10"/><text class="t" x="625" y="618">物流合同管理</text><text class="bt" x="625" y="629">物资供应处</text><text class="bt" x="625" y="632.5">计划室</text><text class="bt" x="625" y="640">物资供应处</text><text class="bt" x="625" y="643.5">仓储中心</text></g>
<g id="s3r3c"><rect class="w" x="669" y="617" width="24" height="16"/><rect class="b" x="669" y="633" width="24" height="13"/><text class="t" x="681" y="626">工具工装采购</text><text class="bt" x="681" y="638">物资供应处</text><text class="bt" x="681" y="642">工装采购室</text></g>
<g id="s3r3d"><rect class="w" x="724" y="617" width="24" height="16"/><rect class="b" x="724" y="633" width="24" height="13"/><text class="t" x="736" y="623.5">辅料及辅助材</text><text class="t" x="736" y="628">料采购计划</text><text class="bt" x="736" y="638">物资供应处</text><text class="bt" x="736" y="642">采购室</text></g>
<g id="s3r3e"><rect class="w" x="780" y="617" width="24" height="16"/><rect class="b" x="780" y="633" width="24" height="13"/><text class="t" x="792" y="622">金属材料（含</text><text class="t" x="792" y="626">毛坯）价格</text><text class="t" x="792" y="630">管理</text><text class="bt" x="792" y="638">物资供应处</text><text class="bt" x="792" y="642">毛坯采购室</text></g>
<g id="s3r3f"><rect class="w" x="836" y="617" width="24" height="16"/><rect class="b" x="836" y="633" width="24" height="13"/><text class="t" x="848" y="623.5">外协原辅材料</text><text class="t" x="848" y="628">管理</text><text class="bt" x="848" y="638">物资供应处</text><text class="bt" x="848" y="642">成附件采购室</text></g>
<g id="s3r3g"><rect class="w" x="892" y="608" width="24" height="17"/><rect class="b" x="892" y="625" width="24" height="10"/><rect class="b" x="892" y="636" width="24" height="10"/><text class="t" x="904" y="615">外购物资标识</text><text class="t" x="904" y="619.5">管理</text><text class="bt" x="904" y="629">物资供应处</text><text class="bt" x="904" y="632.5">仓储中心</text><text class="bt" x="904" y="640">物资供应处</text><text class="bt" x="904" y="643.5">计划室</text></g>

<!-- 毛坯加工 -->
<g id="m1"><rect class="w" x="1084" y="85" width="23" height="17"/><rect class="b" x="1084" y="102" width="23" height="9"/><text class="t" x="1095.5" y="90">确定XX中心</text><text class="t" x="1095.5" y="94">《XX月度生</text><text class="t" x="1095.5" y="98">产计划》</text><text class="bt" x="1095.5" y="105.5">XX中心生产</text><text class="bt" x="1095.5" y="109">管理办公室</text></g>
<g id="m2"><rect class="w" x="1084" y="127" width="23" height="17"/><rect class="b" x="1084" y="144" width="23" height="9"/><text class="t" x="1095.5" y="132">确定《XX日</text><text class="t" x="1095.5" y="136">生产作业计</text><text class="t" x="1095.5" y="140">划》</text><text class="bt" x="1095.5" y="147.5">XX中心生产</text><text class="bt" x="1095.5" y="151">管理办公室</text></g>
<g id="m3"><rect class="w" x="1137" y="127" width="24" height="17"/><rect class="b" x="1137" y="144" width="24" height="9"/><text class="t" x="1149" y="134">准备（领取</text><text class="t" x="1149" y="138.5">料）</text><text class="bt" x="1149" y="147.5">XX中心生产</text><text class="bt" x="1149" y="151">管理办公室</text></g>
<g id="m4"><rect class="w" x="1189" y="85" width="24" height="16"/><rect class="b" x="1189" y="101" width="24" height="10"/><text class="t" x="1201" y="91.5">准备工艺技术</text><text class="t" x="1201" y="96">资料</text><text class="bt" x="1201" y="105">XX中心工艺</text><text class="bt" x="1201" y="108.5">技术室</text></g>
<g id="m5"><rect class="w" x="1189" y="127" width="24" height="17"/><rect class="b" x="1189" y="144" width="24" height="9"/><text class="t" x="1201" y="137">原材料准备</text><text class="bt" x="1201" y="147.5">XX中心物流</text><text class="bt" x="1201" y="151">配送室</text></g>
<g id="m6"><rect class="w" x="1189" y="170" width="24" height="16"/><rect class="b" x="1189" y="186" width="24" height="10"/><text class="t" x="1201" y="179.5">配料</text><text class="bt" x="1201" y="190">XX中心物流</text><text class="bt" x="1201" y="193.5">配送室</text></g>
<g id="m7"><rect class="w" x="1189" y="212" width="24" height="17"/><rect class="b" x="1189" y="229" width="24" height="9"/><text class="t" x="1201" y="219">领取工具工</text><text class="t" x="1201" y="223.5">装</text><text class="bt" x="1201" y="232.5">XX中心工具</text><text class="bt" x="1201" y="236">管理室</text></g>
<g id="m8"><rect class="w" x="1139" y="171" width="23" height="16"/><rect class="b" x="1139" y="187" width="23" height="10"/><text class="t" x="1150.5" y="180.5">模具准备</text><text class="bt" x="1150.5" y="191">XX中心模具</text><text class="bt" x="1150.5" y="194.5">管理室</text></g>
<g id="m9"><rect class="w" x="1139" y="213" width="23" height="16"/><rect class="b" x="1139" y="229" width="23" height="10"/><text class="t" x="1150.5" y="222.5">工装检查</text><text class="bt" x="1150.5" y="233">XX中心工装</text><text class="bt" x="1150.5" y="236.5">管理室</text></g>
<g id="m10"><rect class="w" x="1085" y="178" width="23" height="17"/><rect class="b" x="1085" y="195" width="23" height="9"/><text class="t" x="1096.5" y="184.5">确定《月度模</text><text class="t" x="1096.5" y="189">具需求计划》</text><text class="bt" x="1096.5" y="198.5">XX中心模具</text><text class="bt" x="1096.5" y="202">管理室</text></g>
<g id="m11"><rect class="w" x="1093" y="212" width="23" height="16"/><rect class="b" x="1093" y="228" width="23" height="10"/><text class="t" x="1104.5" y="218.5">确定《月度工</text><text class="t" x="1104.5" y="223">装需求计划》</text><text class="bt" x="1104.5" y="232">XX中心工装</text><text class="bt" x="1104.5" y="235.5">管理室</text></g>
<g id="ym1"><rect class="y" x="1246" y="167" width="38" height="16"/><rect class="b" x="1246" y="183" width="38" height="7"/><text class="ty" x="1265" y="177">锻铸加工304</text><text class="bt" x="1265" y="187.5">304中心生产</text></g>
<g id="ym2"><rect class="y" x="1246" y="201" width="38" height="16"/><rect class="b" x="1246" y="217" width="38" height="6"/><text class="ty" x="1265" y="211">锻造加工305</text><text class="bt" x="1265" y="221">305中心生产</text></g>
<g id="m12"><rect class="w" x="1285" y="131" width="24" height="17"/><rect class="b" x="1285" y="148" width="24" height="9"/><text class="t" x="1297" y="141">生产加工</text><text class="bt" x="1297" y="151.5">XX中心生产</text><text class="bt" x="1297" y="155">管理办公室</text></g>
<g id="m13"><rect class="w" x="1324" y="192" width="23" height="16"/><rect class="b" x="1324" y="208" width="23" height="9"/><text class="t" x="1335.5" y="201.5">入库前检验</text><text class="bt" x="1335.5" y="211.5">XX中心生产</text><text class="bt" x="1335.5" y="215">质量检验室</text></g>

<!-- 中间工序 -->
<g id="i1"><rect class="w" x="1167" y="287" width="24" height="18"/><rect class="b" x="1167" y="305" width="24" height="10"/><text class="t" x="1179" y="292">确定《月度钣</text><text class="t" x="1179" y="296">金焊接需求</text><text class="t" x="1179" y="300">计划》</text><text class="bt" x="1179" y="309">XX中心生产</text><text class="bt" x="1179" y="312.5">管理室</text></g>
<g id="i2"><rect class="w" x="1210" y="289" width="24" height="16"/><rect class="b" x="1210" y="305" width="24" height="7"/><text class="t" x="1222" y="298.5">钣金焊接准备</text><text class="bt" x="1222" y="309.5">XX中心生产</text></g>
<g id="i3"><rect class="w" x="1257" y="287" width="24" height="17"/><rect class="b" x="1257" y="304" width="24" height="9"/><text class="t" x="1269" y="294">钣金焊接加工</text><text class="t" x="1269" y="298.5">外协</text><text class="bt" x="1269" y="307.5">XX中心生产</text><text class="bt" x="1269" y="311">管理室</text></g>
<g id="i4"><rect class="w" x="1167" y="326" width="24" height="17"/><rect class="b" x="1167" y="343" width="24" height="10"/><text class="t" x="1179" y="333">确定XX中心</text><text class="t" x="1179" y="337.5">《热处理计划》</text><text class="bt" x="1179" y="347">XX中心生产</text><text class="bt" x="1179" y="350.5">管理室</text></g>
<g id="i5"><rect class="w" x="1237" y="325" width="24" height="17"/><rect class="b" x="1237" y="342" width="24" height="10"/><text class="t" x="1249" y="335">工艺热处理</text><text class="bt" x="1249" y="346">XX中心生产</text><text class="bt" x="1249" y="349.5">管理室</text></g>
<g id="i6"><rect class="w" x="1167" y="365" width="24" height="17"/><rect class="b" x="1167" y="382" width="24" height="10"/><text class="t" x="1179" y="370">确定XX中心</text><text class="t" x="1179" y="374">《月度工装需</text><text class="t" x="1179" y="378">求计划》</text><text class="bt" x="1179" y="386">XX中心生产</text><text class="bt" x="1179" y="389.5">管理室</text></g>
<g id="i7"><rect class="w" x="1212" y="369" width="24" height="13"/><rect class="b" x="1212" y="382" width="24" height="10"/><text class="t" x="1224" y="377">专用工装采购</text><text class="bt" x="1224" y="386">生产保障处</text><text class="bt" x="1224" y="389.5">工装采购室</text></g>
<g id="i8"><rect class="w" x="1257" y="365" width="24" height="17"/><rect class="b" x="1257" y="382" width="24" height="10"/><text class="t" x="1269" y="372">专用工装装配</text><text class="t" x="1269" y="376.5">与验收</text><text class="bt" x="1269" y="386">XX中心生产</text><text class="bt" x="1269" y="389.5">管理室</text></g>
<g id="i9"><rect class="w" x="1320" y="307" width="24" height="17"/><rect class="b" x="1320" y="324" width="24" height="9"/><text class="t" x="1332" y="317">检验加工</text><text class="bt" x="1332" y="327.5">XX中心生产</text><text class="bt" x="1332" y="331">质量检验室</text></g>
<g id="yi1"><rect class="y" x="1312" y="345" width="35" height="17"/><rect class="b" x="1312" y="362" width="35" height="10"/><text class="ty" x="1329.5" y="355.5" style="font-size:5px">检验工序</text><text class="bt" x="1329.5" y="366">质量检验室</text><text class="bt" x="1329.5" y="369.5">计量检测中心</text></g>
<g id="yi2"><rect class="y" x="1314" y="380" width="34" height="16"/><rect class="b" x="1314" y="396" width="34" height="6"/><text class="ty" x="1331" y="390">特种加工 427</text><text class="bt" x="1331" y="400.5">427中心生产</text></g>

<!-- 机加加工 -->
<g id="k1"><rect class="w" x="1195" y="419" width="23" height="16"/><rect class="b" x="1195" y="435" width="23" height="10"/><text class="t" x="1206.5" y="428.5">领取物料</text><text class="bt" x="1206.5" y="439">XX中心生产</text><text class="bt" x="1206.5" y="442.5">物流配送室</text></g>
<g id="k2"><rect class="w" x="1252" y="432" width="24" height="17"/><rect class="b" x="1252" y="449" width="24" height="9"/><text class="t" x="1264" y="439">准备工艺技术</text><text class="t" x="1264" y="443.5">资料</text><text class="bt" x="1264" y="452.5">XX中心工艺</text><text class="bt" x="1264" y="456">技术室</text></g>
<g id="k3"><rect class="w" x="1147" y="473" width="24" height="15"/><rect class="b" x="1147" y="488" width="24" height="10"/><text class="t" x="1159" y="478">确定《XX中</text><text class="t" x="1159" y="482">心月度生产</text><text class="t" x="1159" y="486">计划》</text><text class="bt" x="1159" y="492">XX中心生产</text><text class="bt" x="1159" y="495.5">管理室</text></g>
<g id="k4"><rect class="w" x="1193" y="474" width="24" height="16"/><rect class="b" x="1193" y="490" width="24" height="10"/><text class="t" x="1205" y="480.5">领取工装图号</text><text class="t" x="1205" y="485">（台）</text><text class="bt" x="1205" y="494">XX中心生产</text><text class="bt" x="1205" y="497.5">物流配送室</text></g>
<g id="k5"><rect class="w" x="1252" y="475" width="24" height="15"/><rect class="b" x="1252" y="490" width="24" height="10"/><text class="t" x="1264" y="484">设备准备检修</text><text class="bt" x="1264" y="494">XX中心生产</text><text class="bt" x="1264" y="497.5">设备管理室</text></g>
<g id="k6"><rect class="w" x="1358" y="475" width="24" height="17"/><rect class="b" x="1358" y="492" width="24" height="10"/><text class="t" x="1370" y="485">生产加工</text><text class="bt" x="1370" y="496">XX中心生产</text><text class="bt" x="1370" y="499.5">管理室</text></g>
<g id="k7"><rect class="w" x="1148" y="516" width="23" height="16"/><rect class="b" x="1148" y="532" width="23" height="9"/><text class="t" x="1159.5" y="522">确定《月度刀</text><text class="t" x="1159.5" y="526.5">具需求计划》</text><text class="bt" x="1159.5" y="535.5">XX中心工具</text><text class="bt" x="1159.5" y="539">管理室</text></g>
<g id="k8"><rect class="w" x="1250" y="525" width="24" height="16"/><rect class="b" x="1250" y="541" width="24" height="9"/><text class="t" x="1262" y="534.5">领取刀具</text><text class="bt" x="1262" y="544.5">XX中心生产</text><text class="bt" x="1262" y="548">工具管理室</text></g>
<g id="k9"><rect class="w" x="1357" y="543" width="24" height="16"/><rect class="b" x="1357" y="559" width="24" height="10"/><text class="t" x="1369" y="552.5">入库前检验</text><text class="bt" x="1369" y="563">XX中心生产</text><text class="bt" x="1369" y="566.5">质量检验室</text></g>
<g id="k10"><rect class="w" x="1147" y="558" width="24" height="16"/><rect class="b" x="1147" y="574" width="24" height="6"/><text class="t" x="1159" y="564">确定《月度工</text><text class="t" x="1159" y="568.5">装需求计划》</text><text class="bt" x="1159" y="578">XX中心工具</text></g>
<g id="k11"><rect class="w" x="1251" y="559" width="24" height="16"/><rect class="b" x="1251" y="575" width="24" height="10"/><text class="t" x="1263" y="568.5">领取工具工装</text><text class="bt" x="1263" y="579">XX中心生产</text><text class="bt" x="1263" y="582.5">工具管理室</text></g>
<g id="k12"><rect class="w" x="1195" y="575" width="23" height="17"/><rect class="b" x="1195" y="592" width="23" height="9"/><text class="t" x="1206.5" y="585">工装检查</text><text class="bt" x="1206.5" y="595.5">XX中心工装</text><text class="bt" x="1206.5" y="599">管理室</text></g>
<g id="yk1"><rect class="y" x="1095" y="620" width="34" height="17"/><rect class="b" x="1095" y="637" width="34" height="6"/><text class="ty" x="1112" y="630">钣金焊接 407</text><text class="bt" x="1112" y="641.5">407中心生产</text></g>
<g id="yk2"><rect class="y" x="1145" y="620" width="34" height="17"/><rect class="b" x="1145" y="637" width="34" height="6"/><text class="ty" x="1162" y="630">叶片加工 409</text><text class="bt" x="1162" y="641.5">409中心生产</text></g>
<g id="yk3"><rect class="y" x="1193" y="620" width="34" height="17"/><rect class="b" x="1193" y="637" width="34" height="6"/><text class="ty" x="1210" y="630">轮盘加工 422</text><text class="bt" x="1210" y="641.5">422中心生产</text></g>
<g id="yk4"><rect class="y" x="1246" y="620" width="34" height="17"/><rect class="b" x="1246" y="637" width="34" height="6"/><text class="ty" x="1263" y="630">转动零件 427</text><text class="bt" x="1263" y="641.5">427中心生产</text></g>
<g id="yk5"><rect class="y" x="1296" y="620" width="34" height="17"/><rect class="b" x="1296" y="637" width="34" height="6"/><text class="ty" x="1313" y="630">精密加工 434</text><text class="bt" x="1313" y="641.5">434中心生产</text></g>
<g id="yk6"><rect class="y" x="1344" y="620" width="34" height="17"/><rect class="b" x="1344" y="637" width="34" height="6"/><text class="ty" x="1361" y="630">装配试验 439</text><text class="bt" x="1361" y="641.5">439中心生产</text></g>

<!-- 装配试车 -->
<g id="a1"><rect class="w" x="1415" y="85" width="23" height="16"/><rect class="b" x="1415" y="101" width="23" height="10"/><text class="t" x="1426.5" y="91.5">确定《412发</text><text class="t" x="1426.5" y="96">动机装配计划》</text><text class="bt" x="1426.5" y="105">412中心生产</text><text class="bt" x="1426.5" y="108.5">计划</text></g>
<g id="a2"><rect class="w" x="1460" y="85" width="24" height="16"/><rect class="b" x="1460" y="101" width="24" height="9"/><rect class="b" x="1460" y="111" width="24" height="9"/><text class="t" x="1472" y="94.5">装配生产准备</text><text class="bt" x="1472" y="104.5">412中心生产</text><text class="bt" x="1472" y="108">计划</text><text class="bt" x="1472" y="114.5">412中心物流</text><text class="bt" x="1472" y="118">配送</text></g>
<g id="a3"><rect class="w" x="1460" y="128" width="24" height="16"/><rect class="b" x="1460" y="144" width="24" height="9"/><text class="t" x="1472" y="137.5">备件配套</text><text class="bt" x="1472" y="147.5">412中心生产</text><text class="bt" x="1472" y="151">计划</text></g>
<g id="a4"><rect class="w" x="1482" y="182" width="24" height="17"/><rect class="b" x="1482" y="199" width="24" height="10"/><text class="t" x="1494" y="192">部件装配管理</text><text class="bt" x="1494" y="203">412中心生产</text><text class="bt" x="1494" y="206.5">计划</text></g>
<g id="a5"><rect class="w" x="1554" y="85" width="24" height="16"/><rect class="b" x="1554" y="101" width="24" height="10"/><text class="t" x="1566" y="94.5">部件装配</text><text class="bt" x="1566" y="105">412中心生产</text><text class="bt" x="1566" y="108.5">装配</text></g>
<g id="a6"><rect class="w" x="1554" y="145" width="24" height="16"/><rect class="b" x="1554" y="161" width="24" height="10"/><text class="t" x="1566" y="154.5">工厂试车</text><text class="bt" x="1566" y="165">412中心生产</text><text class="bt" x="1566" y="168.5">试车</text></g>
<g id="a7"><rect class="w" x="1554" y="194" width="24" height="16"/><rect class="b" x="1554" y="210" width="24" height="10"/><text class="t" x="1566" y="203.5">分解</text><text class="bt" x="1566" y="214">412中心生产</text><text class="bt" x="1566" y="217.5">装配</text></g>
<g id="a8"><rect class="w" x="1615" y="85" width="25" height="16"/><rect class="b" x="1615" y="101" width="25" height="10"/><text class="t" x="1627.5" y="94.5">装配检验入库</text><text class="bt" x="1627.5" y="105">412中心生产</text><text class="bt" x="1627.5" y="108.5">检验</text></g>
<g id="a9"><rect class="w" x="1615" y="135" width="24" height="16"/><rect class="b" x="1615" y="151" width="24" height="10"/><text class="t" x="1627" y="144.5">装箱检验</text><text class="bt" x="1627" y="155">412中心生产</text><text class="bt" x="1627" y="158.5">检验</text></g>
<g id="a10"><rect class="w" x="1616" y="181" width="24" height="15"/><rect class="b" x="1616" y="196" width="24" height="10"/><text class="t" x="1628" y="187">检验试车文件</text><text class="t" x="1628" y="191.5">审</text><text class="bt" x="1628" y="200">412中心生产</text><text class="bt" x="1628" y="203.5">检验</text></g>
<g id="a11"><rect class="w" x="1554" y="237" width="24" height="13"/><rect class="b" x="1554" y="250" width="24" height="8"/><text class="t" x="1566" y="245">清洗</text><text class="bt" x="1566" y="255">412中心生产</text></g>
<g id="a12"><rect class="w" x="1554" y="282" width="24" height="16"/><rect class="b" x="1554" y="298" width="24" height="10"/><text class="t" x="1566" y="291.5">故障检查</text><text class="bt" x="1566" y="302">412中心生产</text><text class="bt" x="1566" y="305.5">装配</text></g>
<g id="a13"><rect class="w" x="1554" y="327" width="24" height="17"/><rect class="b" x="1554" y="344" width="24" height="10"/><text class="t" x="1566" y="337">总装</text><text class="bt" x="1566" y="348">412中心生产</text><text class="bt" x="1566" y="351.5">装配</text></g>
<g id="a14"><rect class="w" x="1554" y="377" width="24" height="17"/><rect class="b" x="1554" y="394" width="24" height="9"/><text class="t" x="1566" y="387">检验试车</text><text class="bt" x="1566" y="397.5">412中心生产</text><text class="bt" x="1566" y="401">试车</text></g>
<g id="a15"><rect class="w" x="1435" y="290" width="23" height="16"/><rect class="b" x="1435" y="306" width="23" height="11"/><text class="t" x="1446.5" y="299.5">试车生产准备</text><text class="bt" x="1446.5" y="310.5">412中心生产</text><text class="bt" x="1446.5" y="314">试车</text></g>
<g id="a16"><rect class="w" x="1436" y="347" width="23" height="18"/><rect class="b" x="1436" y="365" width="23" height="9"/><text class="t" x="1447.5" y="354">确定《412试</text><text class="t" x="1447.5" y="358.5">车计划》</text><text class="bt" x="1447.5" y="368.5">412中心生产</text><text class="bt" x="1447.5" y="372">计划</text></g>
<!-- 装配支撑 -->
<g id="s4r1a"><rect class="w" x="1441" y="446" width="24" height="17"/><rect class="b" x="1441" y="463" width="24" height="9"/><text class="t" x="1453" y="452.5">工具工装计量</text><text class="t" x="1453" y="457">维修</text><text class="bt" x="1453" y="466.5">工具管理</text><text class="bt" x="1453" y="470">中心</text></g>
<g id="s4r1b"><rect class="w" x="1497" y="446" width="24" height="17"/><rect class="b" x="1497" y="463" width="24" height="9"/><text class="t" x="1509" y="455.5">工装验证</text><text class="bt" x="1509" y="466.5">生产保障处</text><text class="bt" x="1509" y="470">工装管理室</text></g>
<g id="s4r1c"><rect class="w" x="1552" y="446" width="24" height="17"/><rect class="b" x="1552" y="463" width="24" height="9"/><text class="t" x="1564" y="455.5">工装维修</text><text class="bt" x="1564" y="466.5">生产保障处</text><text class="bt" x="1564" y="470">工装管理室</text></g>
<g id="s4r1d"><rect class="w" x="1607" y="446" width="24" height="17"/><rect class="b" x="1607" y="463" width="24" height="9"/><text class="t" x="1619" y="455.5">工装报废</text><text class="bt" x="1619" y="466.5">生产保障处</text><text class="bt" x="1619" y="470">工装管理室</text></g>
<g id="s4r2a"><rect class="w" x="1441" y="492" width="24" height="16"/><rect class="b" x="1441" y="508" width="24" height="9"/><text class="t" x="1453" y="501.5">设备维修</text><text class="bt" x="1453" y="511.5">生产保障处</text><text class="bt" x="1453" y="515">设备管理室</text></g>
<g id="s4r2b"><rect class="w" x="1497" y="492" width="24" height="16"/><rect class="b" x="1497" y="508" width="24" height="9"/><text class="t" x="1509" y="501.5">设备巡检维修</text><text class="bt" x="1509" y="511.5">生产保障处</text><text class="bt" x="1509" y="515">设备管理室</text></g>
<g id="s4r2c"><rect class="w" x="1552" y="492" width="24" height="16"/><rect class="b" x="1552" y="508" width="24" height="9"/><text class="t" x="1564" y="499">外购设备维修</text><text class="t" x="1564" y="503.5">保养设备</text><text class="bt" x="1564" y="511.5">生产保障处</text><text class="bt" x="1564" y="515">设备管理室</text></g>
<g id="s4r2d"><rect class="w" x="1607" y="492" width="24" height="16"/><rect class="b" x="1607" y="508" width="24" height="9"/><rect class="b" x="1607" y="518" width="24" height="9"/><text class="t" x="1619" y="497.5">辅助（临时）</text><text class="t" x="1619" y="501.5">工装管理</text><text class="bt" x="1619" y="511.5">工具管理</text><text class="bt" x="1619" y="515">中心</text><text class="bt" x="1619" y="521.5">工具管理</text><text class="bt" x="1619" y="525">中心</text></g>
<g id="s4r3a"><rect class="w" x="1441" y="537" width="24" height="17"/><rect class="b" x="1441" y="554" width="24" height="9"/><rect class="b" x="1441" y="564" width="24" height="9"/><text class="t" x="1453" y="543">安全（三级教</text><text class="t" x="1453" y="547.5">育）</text><text class="bt" x="1453" y="557.5">安全管理</text><text class="bt" x="1453" y="561">监督处</text><text class="bt" x="1453" y="567.5">安全管理</text><text class="bt" x="1453" y="571">监督处</text></g>
<g id="s4r3b"><rect class="w" x="1497" y="537" width="24" height="17"/><rect class="b" x="1497" y="554" width="24" height="9"/><rect class="b" x="1497" y="564" width="24" height="9"/><text class="t" x="1509" y="543">特殊工艺质量</text><text class="t" x="1509" y="547.5">问题处理</text><text class="bt" x="1509" y="557.5">工艺技术</text><text class="bt" x="1509" y="561">质量处</text><text class="bt" x="1509" y="567.5">工艺技术</text><text class="bt" x="1509" y="571">质量处</text></g>
<g id="s4r3c"><rect class="w" x="1552" y="537" width="24" height="17"/><rect class="b" x="1552" y="554" width="24" height="9"/><rect class="b" x="1552" y="564" width="24" height="9"/><text class="t" x="1564" y="546.5">工艺质量问题</text><text class="bt" x="1564" y="557.5">工艺技术</text><text class="bt" x="1564" y="561">质量处</text><text class="bt" x="1564" y="567.5">工艺技术</text><text class="bt" x="1564" y="571">质量处</text></g>
<g id="s4r3d"><rect class="w" x="1607" y="537" width="24" height="16"/><rect class="b" x="1607" y="553" width="24" height="11"/><text class="t" x="1619" y="546.5">环境监测管理</text><text class="bt" x="1619" y="557.5">环境保护</text><text class="bt" x="1619" y="561">管理室</text></g>
<g id="s4r4a"><rect class="w" x="1441" y="582" width="24" height="17"/><rect class="b" x="1441" y="599" width="24" height="10"/><text class="t" x="1453" y="592">工艺处理检查</text><text class="bt" x="1453" y="603">质量检验</text><text class="bt" x="1453" y="606.5">管理室</text></g>
<g id="s4r4b"><rect class="w" x="1497" y="582" width="24" height="17"/><rect class="b" x="1497" y="599" width="24" height="10"/><text class="t" x="1509" y="589">质量检验规范</text><text class="t" x="1509" y="593.5">检查</text><text class="bt" x="1509" y="603">质量检验</text><text class="bt" x="1509" y="606.5">管理室</text></g>
<g id="s4r4c"><rect class="w" x="1552" y="582" width="24" height="17"/><rect class="b" x="1552" y="599" width="24" height="10"/><text class="t" x="1564" y="592">工序检验</text><text class="bt" x="1564" y="603">生产调度处</text><text class="bt" x="1564" y="606.5">计划室</text></g>
<g id="s4r4d"><rect class="w" x="1607" y="582" width="24" height="17"/><rect class="b" x="1607" y="599" width="24" height="10"/><text class="t" x="1619" y="592">厂内转运</text><text class="bt" x="1619" y="603">生产调度处</text><text class="bt" x="1619" y="606.5">计划室</text></g>
<g id="s4r5a"><rect class="w" x="1441" y="628" width="24" height="18"/><rect class="b" x="1441" y="646" width="24" height="5"/><text class="t" x="1453" y="638.5">生产安全检查</text><text class="bt" x="1453" y="649.5">生产中心主管</text></g>
<g id="s4r5b"><rect class="w" x="1497" y="628" width="24" height="18"/><rect class="b" x="1497" y="646" width="24" height="10"/><text class="t" x="1509" y="635">物料配送信息</text><text class="t" x="1509" y="639.5">管理</text><text class="bt" x="1509" y="650">生产调度处</text><text class="bt" x="1509" y="653.5">计划室</text></g>
<g id="s4r5c"><rect class="w" x="1552" y="628" width="24" height="18"/><rect class="b" x="1552" y="646" width="24" height="10"/><text class="t" x="1564" y="638.5">计划调度管理</text><text class="bt" x="1564" y="650">生产调度处</text><text class="bt" x="1564" y="653.5">计划室</text></g>
<g id="s4r5d"><rect class="w" x="1607" y="628" width="24" height="18"/><rect class="b" x="1607" y="646" width="24" height="10"/><text class="t" x="1619" y="638.5">Agv/小车管理</text><text class="bt" x="1619" y="650">生产调度处</text><text class="bt" x="1619" y="653.5">计划室</text></g>

<!-- 产品交付 -->
<g id="d1"><rect class="w" x="1692" y="111" width="40" height="28"/><rect class="b" x="1692" y="139" width="40" height="25"/><text class="t2" x="1712" y="123">办理发动机发</text><text class="t2" x="1712" y="130">货手续</text><text class="bt2" x="1712" y="146">规划部市场</text><text class="bt2" x="1712" y="151.5">营销处处长</text><text class="bt2" x="1712" y="160">S-ERP 系统</text></g>
<g id="d2"><rect class="w" x="1693" y="208" width="40" height="29"/><rect class="b" x="1693" y="237" width="40" height="15"/><text class="t2" x="1713" y="220">发动机发货前</text><text class="t2" x="1713" y="227">准备</text><text class="bt2" x="1713" y="243">物资供应处</text><text class="bt2" x="1713" y="248.5">仓储中心副主任</text></g>
<g id="d3"><rect class="w" x="1770" y="208" width="40" height="29"/><rect class="b" x="1770" y="237" width="40" height="25"/><text class="t2" x="1790" y="220">办理发动机离</text><text class="t2" x="1790" y="227">厂手续</text><text class="bt2" x="1790" y="243">规划部市场</text><text class="bt2" x="1790" y="248.5">营销处处长</text><text class="bt2" x="1790" y="258">S-ERP 系统</text></g>
<g id="d4"><rect class="w" x="1693" y="312" width="40" height="27"/><rect class="b" x="1693" y="339" width="40" height="17"/><text class="t2" x="1713" y="323">发动机发运及</text><text class="t2" x="1713" y="330">交付</text><text class="bt2" x="1713" y="346">物资供应处</text><text class="bt2" x="1713" y="351.5">仓储中心副主任</text></g>
<g id="e1"><rect class="w" x="1693" y="401" width="40" height="27"/><rect class="b" x="1693" y="428" width="40" height="18"/><text class="t2" x="1713" y="412">确定《备件交</text><text class="t2" x="1713" y="419">付计划》</text><text class="bt2" x="1713" y="435.5">生产调度处</text><text class="bt2" x="1713" y="441">计划室</text></g>
<g id="e2"><rect class="w" x="1770" y="401" width="40" height="27"/><rect class="b" x="1770" y="428" width="40" height="18"/><text class="t2" x="1790" y="416.5">备件装箱入库</text><text class="bt2" x="1790" y="435.5">412中心生产</text><text class="bt2" x="1790" y="441">装配</text></g>
<g id="e3"><rect class="w" x="1693" y="502" width="40" height="28"/><rect class="b" x="1693" y="530" width="40" height="16"/><text class="t2" x="1713" y="514">办理《备件发</text><text class="t2" x="1713" y="521">运通知单》</text><text class="bt2" x="1713" y="536.5">规划部市场</text><text class="bt2" x="1713" y="542">营销处处长</text></g>
<g id="e4"><rect class="w" x="1770" y="502" width="40" height="28"/><rect class="b" x="1770" y="530" width="40" height="16"/><text class="t2" x="1790" y="514">办理《备件销</text><text class="t2" x="1790" y="521">售单》</text><text class="bt2" x="1790" y="536.5">规划部市场</text><text class="bt2" x="1790" y="542">营销处处长</text></g>
<g id="e5"><rect class="w" x="1693" y="606" width="40" height="28"/><rect class="b" x="1693" y="634" width="40" height="16"/><text class="t2" x="1713" y="618">备件发货前准</text><text class="t2" x="1713" y="625">备工作</text><text class="bt2" x="1713" y="640.5">物资供应处</text><text class="bt2" x="1713" y="646">仓储中心副主任</text></g>
<g id="e6"><rect class="w" x="1770" y="606" width="40" height="28"/><rect class="b" x="1770" y="634" width="40" height="17"/><text class="t2" x="1790" y="622">备件出库发运</text><text class="bt2" x="1790" y="640.5">物资供应处</text><text class="bt2" x="1790" y="646">仓储中心副主任</text></g>
</svg>
